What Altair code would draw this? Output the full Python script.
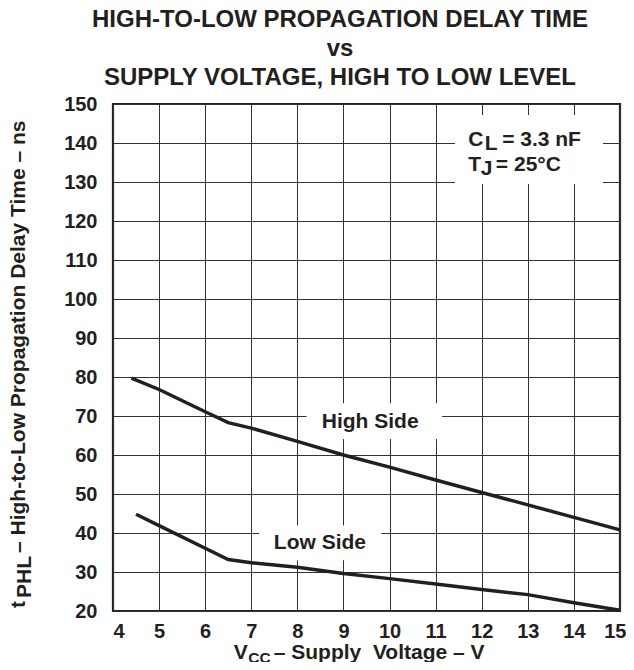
import altair as alt
import pandas as pd

# ---------------- data ----------------
high_v = [4.4, 5, 6, 6.5, 7, 8, 9, 10, 11, 12, 13, 14, 15]
high_t = [79.7, 76.8, 71.1, 68.3, 66.9, 63.5, 60.0, 56.9, 53.6, 50.4, 47.2, 44.0, 40.8]
low_v = [4.5, 5, 6, 6.5, 7, 8, 9, 10, 11, 12, 13, 14, 15]
low_t = [44.8, 41.9, 36.1, 33.2, 32.4, 31.2, 29.6, 28.3, 26.9, 25.5, 24.2, 22.1, 20.2]

x_ticks = list(range(4, 16))
y_ticks = list(range(20, 151, 10))

title_lines = ["HIGH-TO-LOW PROPAGATION DELAY TIME", "vs",
               "SUPPLY VOLTAGE, HIGH TO LOW LEVEL"]

series_names = ["High Side", "Low Side"]
series_label_x = [9.58, 8.49]
series_label_y = [66.9, 35.9]

# white boxes that break the grid behind the labels
box_x1 = [8.2, 7.17, 11.42]
box_x2 = [11.14, 9.82, 14.63]
box_y1 = [64.1, 33.0, 129.5]
box_y2 = [73.3, 41.9, 147.2]

cond_x = 11.71
cond_y = [139.2, 132.8]
cond_sym = ["C", "T"]
cond_sub = ["L", "J"]
cond_rest = ["= 3.3 nF", "= 25°C"]

NB = "\u00a0"
x_title = ["V", "CC", "– Supply" + NB + NB + "Voltage – V"]
y_title = ["t", "PHL", "– High-to-Low Propagation Delay Time – ns"]

FONT = "Liberation Sans"
INK = "#231f20"

# ---------------- scales / axes ----------------
xs = alt.Scale(domain=[4, 15], nice=False, zero=False)
ys = alt.Scale(domain=[20, 150], nice=False, zero=False)
xaxis = alt.Axis(values=x_ticks, title=None, grid=True, ticks=False, tickSize=0,
                 domain=False, labelPadding=10, labelFontSize=20, labelFlush=False,
                 labelAlign={"condition": [{"test": "datum.value == 4", "value": "left"},
                                           {"test": "datum.value == 15", "value": "right"}],
                             "value": "center"},
                 labelOffset={"condition": {"test": "datum.value == 15", "value": 6},
                              "value": 0})
yaxis = alt.Axis(values=y_ticks, title=None, grid=True, ticks=False, tickSize=0,
                 domain=False, labelPadding=16, labelFontSize=20, labelFlush=False)

lines_df = pd.DataFrame({
    "v": high_v + low_v,
    "t": high_t + low_t,
    "series": [series_names[0]] * len(high_v) + [series_names[1]] * len(low_v),
})
boxes_df = pd.DataFrame({"x1": box_x1, "x2": box_x2, "y1": box_y1, "y2": box_y2})

boxes = alt.Chart(boxes_df).mark_rect(color="white").encode(
    x=alt.X("x1:Q", scale=xs, axis=xaxis, title=None),
    x2="x2:Q",
    y=alt.Y("y1:Q", scale=ys, axis=yaxis, title=None),
    y2="y2:Q",
)

lines = alt.Chart(lines_df).mark_line(color=INK, strokeWidth=3.5).encode(
    x=alt.X("v:Q", scale=xs, axis=xaxis, title=None),
    y=alt.Y("t:Q", scale=ys, axis=yaxis, title=None),
    detail="series:N",
)


def text_layer(df, x, y, dx=0, dy=0, size=21, align="left", angle=0):
    return alt.Chart(df).mark_text(
        font=FONT, fontWeight="bold", fontSize=size, color=INK, align=align,
        baseline="alphabetic", dx=dx, dy=dy, angle=angle,
    ).encode(x=x, y=y, text="label:N")


layers = [boxes, lines]

# series labels
lab_df = pd.DataFrame({"label": series_names, "x": series_label_x, "y": series_label_y})
layers.append(text_layer(lab_df, alt.X("x:Q", scale=xs, axis=xaxis, title=None),
                         alt.Y("y:Q", scale=ys, axis=yaxis, title=None), align="center"))

# conditions box (with subscripts)
sub_dx = [16.5, 12.3]
rest_dx = [33.8, 27.5]
for i in range(2):
    xe = alt.X("x:Q", scale=xs, axis=xaxis, title=None)
    ye = alt.Y("y:Q", scale=ys, axis=yaxis, title=None)
    layers.append(text_layer(pd.DataFrame({"label": [cond_sym[i]], "x": [cond_x], "y": [cond_y[i]]}), xe, ye))
    layers.append(text_layer(pd.DataFrame({"label": [cond_sub[i]], "x": [cond_x], "y": [cond_y[i]]}), xe, ye,
                             dx=sub_dx[i], dy=4))
    layers.append(text_layer(pd.DataFrame({"label": [cond_rest[i]], "x": [cond_x], "y": [cond_y[i]]}), xe, ye,
                             dx=rest_dx[i]))

# chart title (three centred lines)
for line, yy in zip(title_lines, [-77.3, -48, -19]):
    layers.append(text_layer(pd.DataFrame({"label": [line]}), alt.value(227), alt.value(yy),
                             size=24, align="center"))

# x axis title with subscript
XT_X, XT_Y = 120.7, 555
layers.append(text_layer(pd.DataFrame({"label": [x_title[0]]}), alt.value(XT_X), alt.value(XT_Y)))
layers.append(text_layer(pd.DataFrame({"label": [x_title[1]]}), alt.value(XT_X), alt.value(XT_Y),
                         dx=14.5, dy=4, size=15.5))
layers.append(text_layer(pd.DataFrame({"label": [x_title[2]]}), alt.value(XT_X), alt.value(XT_Y), dx=40))

# y axis title (rotated) with subscript
YT_X, YT_Y = -88.3, 504
layers.append(text_layer(pd.DataFrame({"label": [y_title[0]]}), alt.value(YT_X), alt.value(YT_Y), angle=270))
layers.append(text_layer(pd.DataFrame({"label": [y_title[1]]}), alt.value(YT_X), alt.value(YT_Y),
                         dx=10, dy=6, angle=270))
layers.append(text_layer(pd.DataFrame({"label": [y_title[2]]}), alt.value(YT_X), alt.value(YT_Y),
                         dx=55, angle=270))

chart = alt.layer(*layers).properties(
    width=507, height=507,
    autosize=alt.AutoSizeParams(type="none"),
    padding={"left": 105, "top": 96, "right": 6, "bottom": 51},
).configure_view(
    stroke=INK, strokeWidth=2.2
).configure_axis(
    labelFont=FONT, labelFontWeight="bold", labelColor=INK,
    gridColor="#333333", gridWidth=1, gridOpacity=1,
)

chart.save("out.html", embed_options={"renderer": "svg", "actions": False})
